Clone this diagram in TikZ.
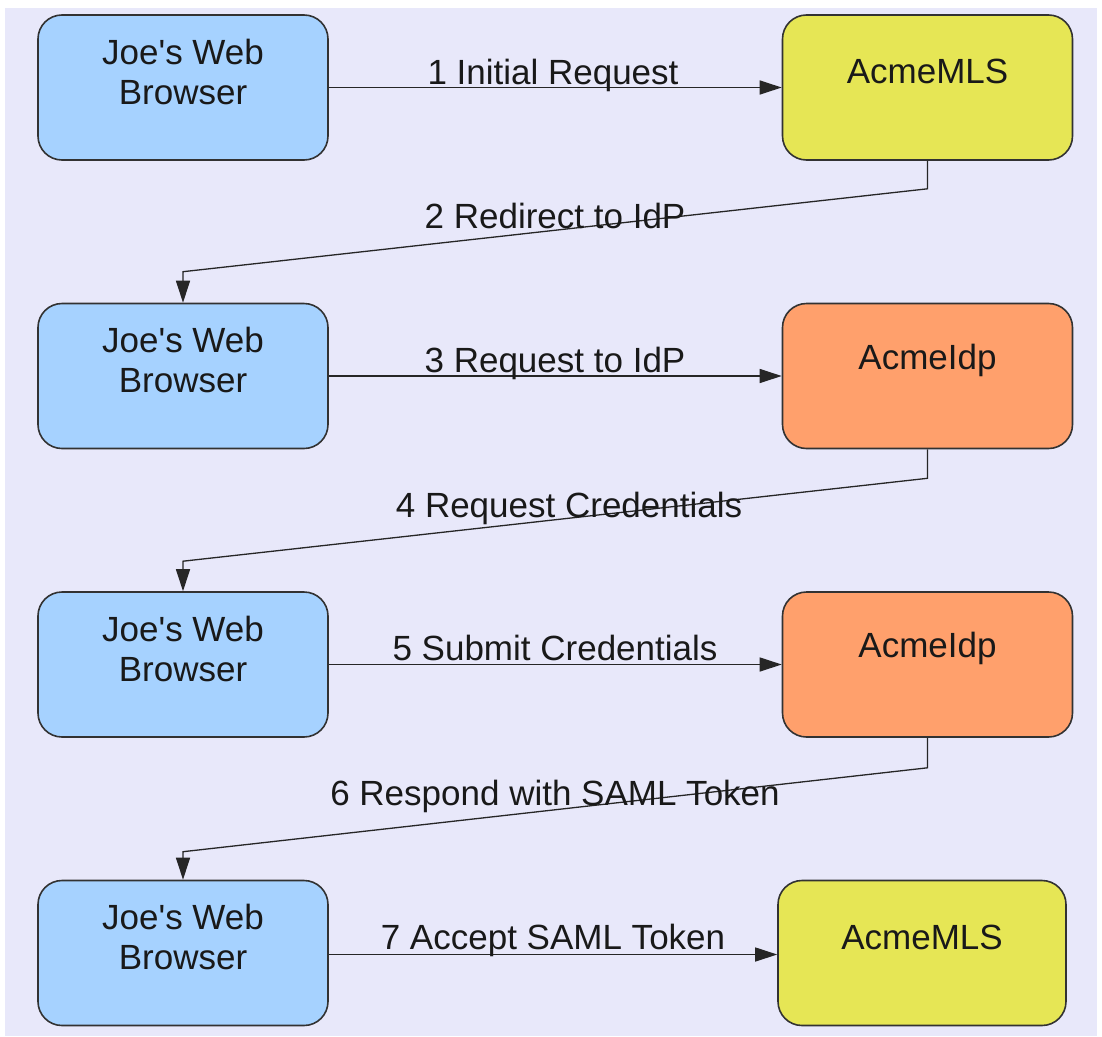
\documentclass[tikz,border=0pt]{standalone}
\usepackage{fontspec}
\setmainfont{Liberation Sans}
\usetikzlibrary{arrows.meta}
\definecolor{bgc}{RGB}{232,232,250}
\definecolor{bluec}{RGB}{166,210,255}
\definecolor{yellowc}{RGB}{230,230,85}
\definecolor{orangec}{RGB}{255,160,108}
\definecolor{edgec}{RGB}{50,50,50}
\newcommand{\jwb}{Joe\textquotesingle s Web\\Browser}
\tikzset{
  box/.style={draw=edgec, line width=1.6pt, rounded corners=24pt, minimum width=290pt, minimum height=145pt, inner sep=0pt},
  browser/.style={box, fill=bluec},
  mls/.style={box, fill=yellowc},
  idp/.style={box, fill=orangec},
  txt/.style={font=\fontsize{35}{40}\selectfont, align=center, text=black!90, inner sep=0pt},
  lbl/.style={font=\fontsize{35}{40}\selectfont, anchor=base, text=black!90, inner sep=0pt},
  arr/.style={draw=black!85, line width=1.3pt, -{Triangle[length=22pt,width=14pt]}}
}
\begin{document}
\begin{tikzpicture}[x=1pt,y=-1pt]
\useasboundingbox (0,0) rectangle (1102,1036);
\fill[white] (0,0) rectangle (1102,1036);
\fill[bgc] (5,8) rectangle (1097,1036);

% boxes
\node[browser] (b1) at (183,87.5) {};
\node[mls] (m1) at (927.5,87.5) {};
\node[browser] (b2) at (183,376) {};
\node[idp] (i1) at (927.5,376) {};
\node[browser] (b3) at (183,664.5) {};
\node[idp] (i2) at (927.5,664.5) {};
\node[browser] (b4) at (183,953) {};
\node[mls, minimum width=288pt] (m2) at (922,953) {};

% box texts
\node[txt] (tb1) at ([yshift=16pt]b1.center) {\jwb};
\node[txt] (tm1) at ([yshift=16pt]m1.center) {AcmeMLS};
\node[txt] (tb2) at ([yshift=16pt]b2.center) {\jwb};
\node[txt] (ti1) at ([yshift=16pt]i1.center) {AcmeIdp};
\node[txt] (tb3) at ([yshift=16pt]b3.center) {\jwb};
\node[txt] (ti2) at ([yshift=16pt]i2.center) {AcmeIdp};
\node[txt] (tb4) at ([yshift=16pt]b4.center) {\jwb};
\node[txt] (tm2) at ([yshift=16pt]m2.center) {AcmeMLS};

% connectors
\draw[arr] (b1.east) -- (m1.west);
\draw[arr] (m1.south) -- ++(0,28) -- ([yshift=31pt]b2.north) -- (b2.north);
\draw[arr] (b2.east) -- (i1.west);
\draw[arr] (i1.south) -- ++(0,29) -- ([yshift=30pt]b3.north) -- (b3.north);
\draw[arr] (b3.east) -- (i2.west);
\draw[arr] (i2.south) -- ++(0,30) -- ([yshift=28pt]b4.north) -- (b4.north);
\draw[arr] ([yshift=-1.5pt]b4.east) -- ([yshift=-1.5pt]m2.west);

% labels
\node[lbl] (l1) at (553,84) {1 Initial Request};
\node[lbl] (l2) at (555,228) {2 Redirect to IdP};
\node[lbl] (l3) at (555,372) {3 Request to IdP};
\node[lbl] (l4) at (569,517) {4 Request Credentials};
\node[lbl] (l5) at (555,660) {5 Submit Credentials};
\node[lbl] (l6) at (555,805) {6 Respond with SAML Token};
\node[lbl] (l7) at (553,949) {7 Accept SAML Token};
\end{tikzpicture}
\end{document}
